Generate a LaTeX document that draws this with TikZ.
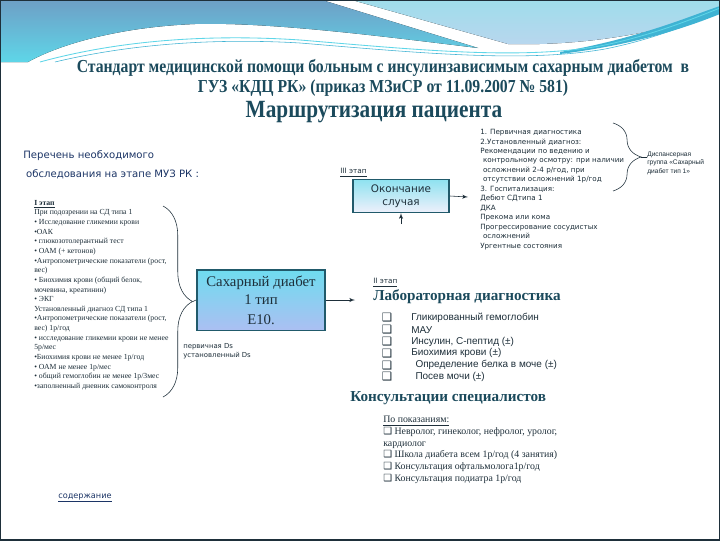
\documentclass[tikz,border=0pt]{standalone}
\usepackage{fontspec}
\setmainfont{Liberation Serif}
\setsansfont{Liberation Sans}
\newfontfamily\tahoma{DejaVu Sans}
\newfontfamily\titlefont[FakeStretch=0.86]{Liberation Serif}
\usetikzlibrary{arrows, positioning, decorations.pathreplacing}

\definecolor{titleteal}{HTML}{1B4A5C}
\definecolor{boxline}{HTML}{215A6B}
\definecolor{boxtop}{HTML}{6FDCEF}
\definecolor{boxbot}{HTML}{ABBFF2}
\definecolor{endtop}{HTML}{8FE2F0}
\definecolor{endbot}{HTML}{EEF0FB}
\definecolor{navy}{HTML}{1C3566}
\definecolor{inkdark}{HTML}{1E2F3A}
\definecolor{decoA}{HTML}{6E9FC6}
\definecolor{decoB}{HTML}{5ED6E8}
\definecolor{decoC}{HTML}{9FDDEB}
\definecolor{decoD}{HTML}{B9D6EE}
\definecolor{decoE}{HTML}{3FB3D3}

\newcommand{\chk}{{\tahoma\char"2751}}

\begin{document}
\begin{tikzpicture}[x=0.025cm, y=-0.025cm, auto, font=\small]
    \tikzstyle{diagbox} = [rectangle, draw=boxline, line width=1.3pt,
        top color=boxtop, bottom color=boxbot, align=center,
        minimum width=3.2cm, minimum height=1.52cm]
    \tikzstyle{endbox} = [rectangle, draw=boxline, line width=1.1pt,
        top color=endtop, bottom color=endbot, align=center,
        minimum width=2.4cm, minimum height=0.8cm,
        font=\tahoma\fontsize{7.4}{9.5}\selectfont, text=inkdark]
    \tikzstyle{plain} = [inner sep=0pt, align=left, text=inkdark]
    \tikzstyle{smalllist} = [plain, font=\fontsize{5.5}{6.85}\selectfont]
    \tikzstyle{rightlist} = [plain, font=\tahoma\fontsize{5.1}{6.75}\selectfont]
    \tikzstyle{stagelbl} = [plain, font=\tahoma\fontsize{5.2}{6}\selectfont]
    \tikzstyle{bigtitle} = [inner sep=0pt, text=titleteal,
        font=\bfseries\fontsize{11}{11}\selectfont]
    \tikzstyle{labitem} = [plain, anchor=west, font=\sffamily\fontsize{7.1}{8}\selectfont]
    \tikzstyle{line} = [draw=inkdark, -latex', thin]
    \tikzstyle{plainline} = [draw=inkdark, thin]
    \tikzstyle{bracer} = [draw=inkdark, thin, decorate,
        decoration={brace, amplitude=21pt, aspect=0.5}]

    % page and top decoration
    \fill[white] (0,0) rectangle (720,540);
    \useasboundingbox (0,0) rectangle (720,540);
    \fill[top color=decoA, bottom color=decoB] (0,0) -- (322,0) -- (478,48)
        .. controls (380,36) and (270,22) .. (195,24)
        .. controls (120,27) and (60,44) .. (28,62) -- (0,62) -- cycle;
    \fill[top color=decoC, bottom color=decoD] (352,0) -- (720,0) -- (720,10)
        .. controls (660,34) and (580,46) .. (508,44) -- cycle;
    \fill[decoE] (560,52) .. controls (640,38) and (690,16) .. (720,6)
        -- (720,14) .. controls (690,26) and (640,44) .. (560,54) -- cycle;
    \draw[decoB, line width=0.6pt] (40,62) .. controls (120,40) and (210,34) .. (300,40)
        .. controls (420,50) and (520,60) .. (600,46) .. controls (650,36) and (690,20) .. (720,8);
    \draw[decoE, line width=0.4pt] (55,62) .. controls (130,44) and (215,38) .. (300,43)
        .. controls (420,53) and (525,63) .. (605,49) .. controls (655,39) and (692,23) .. (720,12);
    \draw[inkdark, line width=1pt] (0,0) rectangle (720,540);

    % titles
    \node [bigtitle, align=center, font=\titlefont\bfseries\fontsize{13}{14.2}\selectfont] (title) at (383,78)
        {Стандарт медицинской помощи больным с инсулинзависимым сахарным диабетом\ \ в\\
         ГУЗ «КДЦ РК» (приказ МЗиСР от 11.09.2007 № 581)};
    \node [bigtitle, font=\titlefont\bfseries\fontsize{17.6}{18}\selectfont] (routing) at (374,112) {Маршрутизация пациента};

    % left part
    \node [plain, anchor=north west, text=navy,
        font=\tahoma\fontsize{7.2}{13.5}\selectfont] (needlist) at (23,150)
        {Перечень необходимого\\ \hspace*{2pt}обследования на этапе МУЗ РК :};
    \node [smalllist, anchor=north west] (stage1) at (34,200) {%
        \textbf{\underline{I этап}}\\
        При подозрении на СД типа 1\\
        • Исследование гликемии крови\\
        •ОАК\\
        • глюкозотолерантный тест\\
        • ОАМ (+ кетонов)\\
        •Антропометрические показатели (рост,\\
        вес)\\
        • Биохимия крови (общий белок,\\
        мочевина, креатинин)\\
        • ЭКГ\\
        Установленный диагноз СД типа 1\\
        •Антропометрические показатели (рост,\\
        вес) 1р/год\\
        • исследование гликемии крови не менее\\
        5р/мес\\
        •Биохимия крови не менее 1р/год\\
        • ОАМ не менее 1р/мес\\
        • общий гемоглобин не менее 1р/3мес\\
        •заполненный дневник самоконтроля};

    \node [diagbox, font=\fontsize{10.5}{13}\selectfont, text=inkdark] (dmbox) at (261,300)
        {Сахарный диабет\\ 1 тип\\[1pt] Е10.};
    \node [stagelbl, anchor=north west, font=\tahoma\fontsize{4.9}{6.4}\selectfont] (dslbl) at (183,343)
        {первичная Ds\\установленный Ds};

    % III stage
    \node [endbox] (endcase) at (401,196) {Окончание\\случая};
    \node [stagelbl, anchor=south west] (stage3) at (340,177) {\underline{III этап}};
    \node [rightlist, anchor=north west] (rlist) at (480,129) {%
        1. Первичная диагностика\\
        2.Установленный диагноз:\\
        Рекомендации по ведению и\\
        \hspace*{2pt}контрольному осмотру: при наличии\\
        \hspace*{2pt}осложнений 2-4 р/год, при\\
        \hspace*{2pt}отсутствии осложнений 1р/год\\
        3. Госпитализация:\\
        Дебют СДтипа 1\\
        ДКА\\
        Прекома или кома\\
        Прогрессирование сосудистых\\
        \hspace*{2pt}осложнений\\
        Ургентные состояния};
    \node [rightlist, anchor=west, font=\sffamily\fontsize{4.7}{6.1}\selectfont] (disp) at (647,163)
        {Диспансерная\\группа «Сахарный\\диабет тип 1»};

    % II stage
    \node [stagelbl, anchor=south west] (stage2) at (373,287) {\underline{II этап}};
    \node [bigtitle, anchor=west, font=\bfseries\fontsize{10.8}{12}\selectfont] (labtitle) at (373,297)
        {Лабораторная диагностика};
    \foreach \txt [count=\i] in {Гликированный гемоглобин, МАУ, {Инсулин, С-пептид (±)},
        Биохимия крови (±), \hspace*{3pt}Определение белка в моче (±), \hspace*{3pt}Посев мочи (±)} {
        \node [plain, font=\fontsize{8.2}{9}\selectfont] (chk\i) at (387,306.2+11.8*\i) {\chk};
        \node [labitem] (lab\i) at (411,306.2+11.8*\i) {\txt};
    }
    \node [bigtitle, anchor=west, font=\bfseries\fontsize{10.8}{12}\selectfont] (constitle) at (350,398)
        {Консультации специалистов};
    \node [plain, anchor=north west, font=\fontsize{7}{8.3}\selectfont] (conslist) at (383,416) {%
        \underline{По показаниям:}\\
        \chk\ Невролог, гинеколог, нефролог, уролог,\\
        кардиолог\\
        \chk\ Школа диабета всем 1р/год (4 занятия)\\
        \chk\ Консультация офтальмолога1р/год\\
        \chk\ Консультация подиатра 1р/год};

    \node [plain, anchor=west, text=navy, font=\tahoma\fontsize{5.8}{7}\selectfont] (contents) at (58,498)
        {\underline{содержание}};

    % braces and connectors
    \coordinate (b1top) at (163,206);
    \coordinate (b1bot) at (163,397);
    \coordinate (b1tip) at (193,301.5);
    \coordinate (b2top) at (613,123);
    \coordinate (b2bot) at (613,191);
    \coordinate (b2tip) at (641,157);
    \coordinate (labin) at (355,300);
    \coordinate (listin) at (468,197);
    \coordinate (up0) at (401,224);

    \path [bracer] (b1top) -- (b1bot);
    \path [bracer, decoration={brace, amplitude=20pt}] (b2top) -- (b2bot);
    \path [plainline] (b1tip) -- (dmbox.west);
    \path [plainline] (b2tip) -- (disp.west |- b2tip);
    \path [line] (dmbox.east) -- (labin);
    \path [line] (endcase.east) -- (listin);
    \path [line] (up0) -- (endcase.south);
\end{tikzpicture}
\end{document}
